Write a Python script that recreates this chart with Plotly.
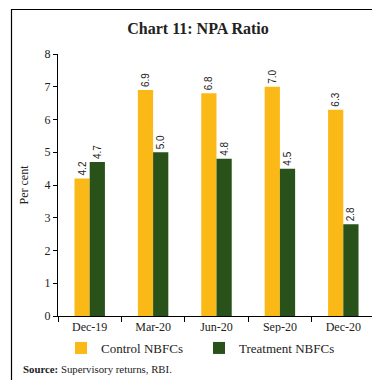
import plotly.graph_objects as go

categories = ["Dec-19", "Mar-20", "Jun-20", "Sep-20", "Dec-20"]
control = [4.2, 6.9, 6.8, 7.0, 6.3]
treatment = [4.7, 5.0, 4.8, 4.5, 2.8]
series_names = ["Control NBFCs", "Treatment NBFCs"]
y_ticks = [0, 1, 2, 3, 4, 5, 6, 7, 8]

W, H = 380, 380
L, R, T, B = 50, 13, 46, 72
pw, ph = W - L - R, H - T - B

def px(x):
    return (x - L) / pw

def py(y):
    return (H - B - y) / ph

serif = "Liberation Serif"

fig = go.Figure()
for name, vals, col in [(series_names[0], control, "#FBB918"), (series_names[1], treatment, "#28521A")]:
    fig.add_trace(go.Bar(
        x=categories, y=vals, name=name, marker=dict(color=col, line=dict(width=0)),
        text=[f"{v:.1f}" for v in vals], textposition="outside", textangle=-90,
        textfont=dict(family="Liberation Sans", size=10, color="#222"),
        cliponaxis=False,
    ))

fig.update_layout(
    width=W, height=H,
    margin=dict(l=L, r=R, t=T, b=B),
    paper_bgcolor="white", plot_bgcolor="white",
    barmode="group", bargap=0.52, bargroupgap=0,
    font=dict(family=serif, size=12, color="#222"),
    title=dict(text="<b>Chart 11: NPA Ratio</b>", x=0.5, xanchor="center",
               y=1 - 20 / H, yanchor="middle", font=dict(family=serif, size=16, color="#222")),
    showlegend=True,
    legend=dict(orientation="h", x=px(53), y=py(340), xanchor="left", yanchor="middle",
                entrywidth=93, entrywidthmode="pixels", itemwidth=30,
                font=dict(family=serif, size=13, color="#222")),
    xaxis=dict(showline=True, linecolor="black", linewidth=1, ticks="outside",
               tickson="boundaries", ticklen=5, tickcolor="black",
               tickfont=dict(family=serif, size=12, color="#222"), showgrid=False),
    yaxis=dict(range=[0, 8], tickvals=y_ticks, showline=True, linecolor="black", linewidth=1,
               ticks="outside", ticklen=4, tickcolor="black", showgrid=False, zeroline=False,
               tickfont=dict(family=serif, size=12, color="#222"),
               title=dict(text="Per cent", font=dict(family=serif, size=12, color="#222"), standoff=13)),
    shapes=[dict(type="rect", xref="paper", yref="paper",
                 x0=px(3.5), x1=px(376.5), y0=py(374.5), y1=py(1.5),
                 line=dict(color="black", width=1.2), fillcolor="rgba(0,0,0,0)", layer="below")],
    annotations=[dict(text="<b>Source:</b> Supervisory returns, RBI.", xref="paper", yref="paper",
                      x=px(13), y=py(361), xanchor="left", yanchor="middle", showarrow=False,
                      font=dict(family=serif, size=10.8, color="#222"))],
)

fig.write_html("out.html")
